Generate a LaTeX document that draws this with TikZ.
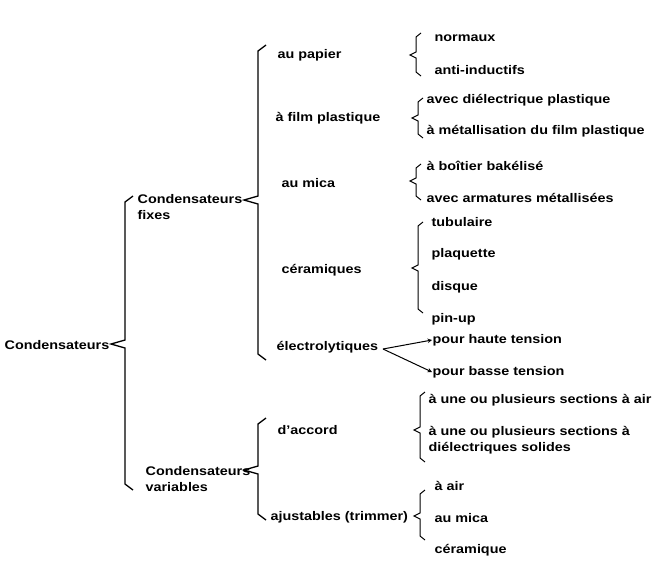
\documentclass[tikz,border=0pt]{standalone}
\usepackage{fontspec}
\setmainfont{Liberation Sans}[FakeStretch=1.15]
\begin{document}
\begin{tikzpicture}[x=1pt,y=-1pt,line width=1.3pt,
  t/.style={anchor=west,inner sep=0pt,font=\fontsize{12.5}{16}\selectfont\bfseries},
  br/.style={line width=1.3pt}]
\useasboundingbox (0,0) rectangle (656,563);
\newcommand\brc[4]{% x top mid bottom
  \draw[br] (#1+8,#2) -- (#1,#2+6) -- (#1,#3-4) -- (#1-14,#3) -- (#1,#3+4) -- (#1,#4-6) -- (#1+8,#4);}
\newcommand\sbrc[4]{%
  \draw[br,line width=1pt] (#1+5,#2) -- (#1,#2+4) -- (#1,#3-3) -- (#1-6,#3) -- (#1,#3+3) -- (#1,#4-4) -- (#1+5,#4);}
\node[t] (c) at (4,345) {Condensateurs};
\node[t,align=left,anchor=north west] (cf) at (137,194) {Condensateurs\\fixes};
\node[t,align=left,anchor=north west] (cv) at (145,466) {Condensateurs\\variables};
\brc{125}{196}{344}{490}
\brc{258}{45}{200}{360}
\brc{258}{418}{470}{520}
\node[t] (p) at (277,55) {au papier};
\node[t] (fp) at (275,118) {à film plastique};
\node[t] (m) at (281,183) {au mica};
\node[t] (ce) at (281,270) {céramiques};
\node[t] (el) at (276,347) {électrolytiques};
\node[t] (da) at (277,430) {d'accord};
\node[t] (aj) at (270,517) {ajustables (trimmer)};
\sbrc{416}{33}{55}{76}
\sbrc{418}{98}{118}{138}
\sbrc{416}{164}{181}{200}
\sbrc{418}{222}{268}{313}
\sbrc{420}{392}{430}{462}
\sbrc{420}{490}{516}{540}
\node[t] (n1) at (434,38) {normaux};
\node[t] (n2) at (434,70) {anti-inductifs};
\node[t] (n3) at (426,100) {avec diélectrique plastique};
\node[t] (n4) at (426,131) {à métallisation du film plastique};
\node[t] (n5) at (426,166) {à boîtier bakélisé};
\node[t] (n6) at (426,198) {avec armatures métallisées};
\node[t] (n7) at (431,222) {tubulaire};
\node[t] (n8) at (431,254) {plaquette};
\node[t] (n9) at (431,287) {disque};
\node[t] (n10) at (431,319) {pin-up};
\node[t] (h) at (432,340) {pour haute tension};
\node[t] (b) at (432,372) {pour basse tension};
\node[t] (s1) at (428,400) {à une ou plusieurs sections à air};
\node[t,align=left,anchor=north west] (s2) at (428,426) {à une ou plusieurs sections à\\diélectriques solides};
\node[t] (a1) at (434,486) {à air};
\node[t] (a2) at (434,518) {au mica};
\node[t] (a3) at (434,550) {céramique};
\coordinate (e0) at (383,349);
\draw[line width=1pt,-stealth] (e0) -- (h.west);
\draw[line width=1pt,-stealth] (e0) -- (b.west);
\end{tikzpicture}
\end{document}
